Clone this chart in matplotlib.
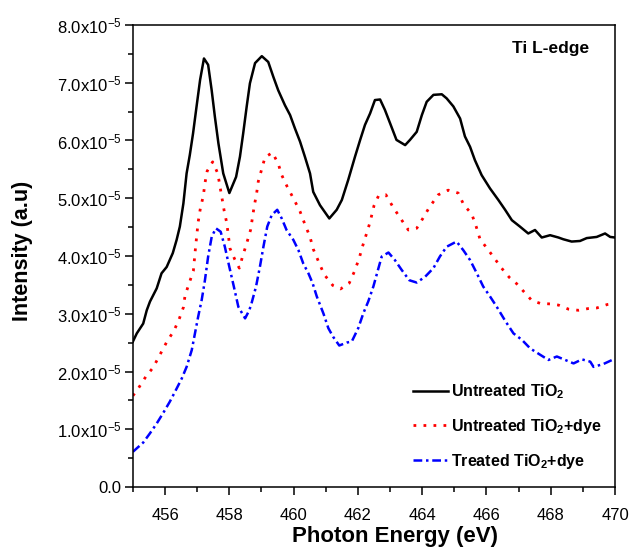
import numpy as np
import matplotlib
matplotlib.use("Agg")
import matplotlib.pyplot as plt
from matplotlib.ticker import MultipleLocator, FuncFormatter

plt.rcParams['font.family'] = ['Liberation Sans', 'DejaVu Sans']
plt.rcParams['mathtext.fontset'] = 'custom'
plt.rcParams['mathtext.rm'] = 'Liberation Sans'
plt.rcParams['mathtext.it'] = 'Liberation Sans:italic'
plt.rcParams['mathtext.bf'] = 'Liberation Sans:bold'

# -----------------------------
# data (intensity in units of 1e-5)
# -----------------------------
energy_untreated = [455.00, 455.12, 455.32, 455.43, 455.53, 455.74, 455.89, 456.05, 456.24, 456.36,
                    456.46, 456.57, 456.67, 456.77, 456.87, 456.98, 457.09, 457.21, 457.34, 457.45,
                    457.55, 457.66, 457.81, 458.00, 458.21, 458.33, 458.43, 458.54, 458.64, 458.80,
                    459.01, 459.21, 459.37, 459.52, 459.73, 459.89, 460.04, 460.20, 460.35, 460.51,
                    460.61, 460.82, 461.11, 461.34, 461.50, 461.70, 461.91, 462.07, 462.22, 462.38,
                    462.53, 462.69, 462.84, 463.00, 463.20, 463.47, 463.62, 463.83, 463.99, 464.14,
                    464.35, 464.61, 464.76, 464.97, 465.18, 465.33, 465.49, 465.64, 465.85, 466.11,
                    466.37, 466.58, 466.79, 467.04, 467.30, 467.51, 467.72, 467.98, 468.24, 468.39,
                    468.65, 468.91, 469.12, 469.43, 469.69, 469.85, 470.00]
int_untreated = [2.52, 2.66, 2.83, 3.06, 3.21, 3.44, 3.70, 3.81, 4.05, 4.28,
                 4.51, 4.91, 5.43, 5.75, 6.12, 6.59, 7.05, 7.42, 7.31, 6.87,
                 6.41, 5.95, 5.43, 5.09, 5.37, 5.72, 6.12, 6.59, 6.99, 7.34,
                 7.46, 7.36, 7.10, 6.87, 6.61, 6.44, 6.21, 5.98, 5.72, 5.43,
                 5.11, 4.88, 4.65, 4.80, 4.97, 5.32, 5.72, 6.01, 6.27, 6.47,
                 6.70, 6.71, 6.53, 6.30, 6.01, 5.92, 6.01, 6.15, 6.44, 6.67,
                 6.79, 6.80, 6.73, 6.59, 6.38, 6.07, 5.89, 5.66, 5.40, 5.17,
                 4.97, 4.80, 4.62, 4.51, 4.39, 4.45, 4.32, 4.36, 4.32, 4.29,
                 4.25, 4.26, 4.31, 4.33, 4.39, 4.33, 4.32]

energy_dye = [455.00, 455.17, 455.40, 455.63, 455.84, 456.05, 456.28, 456.44, 456.57, 456.62,
              456.75, 456.88, 456.95, 457.03, 457.10, 457.19, 457.24, 457.31, 457.48, 457.64,
              457.71, 457.84, 457.92, 458.02, 458.17, 458.31, 458.41, 458.54, 458.66, 458.77,
              458.85, 458.90, 459.11, 459.34, 459.52, 459.63, 459.80, 460.01, 460.20, 460.35,
              460.51, 460.61, 460.77, 460.95, 461.22, 461.46, 461.73, 461.89, 462.04, 462.14,
              462.27, 462.38, 462.50, 462.64, 462.87, 463.10, 463.34, 463.57, 463.83, 464.02,
              464.22, 464.50, 464.81, 465.12, 465.30, 465.54, 465.68, 465.80, 465.98, 466.21,
              466.47, 466.71, 466.94, 467.41, 467.67, 467.98, 468.24, 468.55, 468.86, 469.17,
              469.43, 469.76, 470.00]
int_dye = [1.58, 1.71, 1.91, 2.07, 2.29, 2.51, 2.71, 2.91, 3.11, 3.31,
           3.53, 3.74, 4.16, 4.59, 4.83, 5.04, 5.26, 5.47, 5.63, 5.43,
           5.20, 4.78, 4.57, 4.13, 3.94, 3.79, 3.99, 4.22, 4.45, 4.85,
           5.09, 5.29, 5.71, 5.79, 5.60, 5.40, 5.20, 4.98, 4.77, 4.55,
           4.33, 4.12, 3.91, 3.68, 3.49, 3.43, 3.53, 3.73, 3.96, 4.16,
           4.39, 4.59, 4.87, 5.04, 5.06, 4.84, 4.64, 4.45, 4.48, 4.65,
           4.84, 5.06, 5.14, 5.09, 4.88, 4.73, 4.51, 4.29, 4.16, 3.99,
           3.79, 3.63, 3.52, 3.23, 3.18, 3.17, 3.15, 3.08, 3.06, 3.09,
           3.10, 3.16, 3.18]

energy_treated = [455.00, 455.32, 455.53, 455.74, 455.94, 456.15, 456.31, 456.52, 456.67, 456.83,
                  456.93, 457.03, 457.14, 457.24, 457.34, 457.45, 457.58, 457.73, 457.86, 458.00,
                  458.14, 458.28, 458.49, 458.62, 458.69, 458.83, 458.95, 459.06, 459.18, 459.32,
                  459.49, 459.63, 459.78, 459.99, 460.15, 460.30, 460.46, 460.59, 460.72, 460.93,
                  461.08, 461.23, 461.42, 461.65, 461.81, 462.01, 462.17, 462.32, 462.48, 462.58,
                  462.74, 462.95, 463.15, 463.36, 463.60, 463.83, 464.09, 464.35, 464.55, 464.76,
                  465.07, 465.28, 465.49, 465.70, 465.90, 466.11, 466.32, 466.58, 466.84, 467.10,
                  467.36, 467.67, 467.93, 468.19, 468.45, 468.71, 468.97, 469.23, 469.33, 469.64,
                  469.95, 470.00]
int_treated = [0.61, 0.77, 0.93, 1.10, 1.28, 1.48, 1.65, 1.88, 2.08, 2.37,
               2.66, 2.95, 3.24, 3.58, 3.99, 4.33, 4.48, 4.42, 4.16, 3.81,
               3.47, 3.12, 2.92, 3.06, 3.18, 3.47, 3.81, 4.16, 4.51, 4.71,
               4.80, 4.65, 4.45, 4.28, 4.10, 3.87, 3.70, 3.53, 3.30, 3.00,
               2.75, 2.60, 2.45, 2.50, 2.52, 2.75, 3.01, 3.21, 3.47, 3.67,
               3.99, 4.06, 3.93, 3.76, 3.58, 3.54, 3.64, 3.79, 3.99, 4.16,
               4.25, 4.10, 3.93, 3.70, 3.47, 3.30, 3.12, 2.88, 2.66, 2.55,
               2.40, 2.29, 2.20, 2.26, 2.20, 2.14, 2.21, 2.17, 2.08, 2.13,
               2.21, 2.20]

labels = [r'Untreated TiO$_\mathbf{2}$',
          r'Untreated TiO$_\mathbf{2}$+dye',
          r'Treated TiO$_\mathbf{2}$+dye']

# -----------------------------
# plot
# -----------------------------
fig = plt.figure(figsize=(6.33, 5.55), dpi=100)
ax = fig.add_axes([0.210, 0.1225, 0.7616, 0.8325])

ax.plot(energy_untreated, np.array(int_untreated) * 1e-5, color='black', lw=1.8, label=labels[0])
ax.plot(energy_dye, np.array(int_dye) * 1e-5, color='red', lw=2.0,
        linestyle=(0, (1, 2.6)), label=labels[1])
ax.plot(energy_treated, np.array(int_treated) * 1e-5, color='blue', lw=1.8,
        linestyle=(0, (3.5, 1.5, 1, 1.5)), label=labels[2])

ax.set_xlim(455, 470)
ax.set_ylim(0, 8e-5)
ax.xaxis.set_major_locator(MultipleLocator(2))
ax.xaxis.set_minor_locator(MultipleLocator(1))
ax.yaxis.set_major_locator(MultipleLocator(1e-5))
ax.yaxis.set_minor_locator(MultipleLocator(0.5e-5))

def ylab(v, pos):
    n = v / 1e-5
    if abs(n) < 1e-9:
        return '0.0'
    return '%.1fx10$^{-5}$' % n

ax.yaxis.set_major_formatter(FuncFormatter(ylab))
ax.tick_params(which='both', direction='out', top=False, right=False, width=1.1)
ax.tick_params(which='major', length=6, labelsize=12)
ax.tick_params(which='minor', length=3.5)
ax.tick_params(axis='x', which='major', pad=9)
ax.tick_params(axis='y', which='major', pad=2)
for s in ax.spines.values():
    s.set_linewidth(1.1)

ax.set_xlabel('Photon Energy (eV)', fontsize=16, fontweight='bold', labelpad=4)
ax.xaxis.set_label_coords(0.543, -0.085)
ax.set_ylabel('Intensity (a.u)', fontsize=15.5, fontweight='bold')
ax.yaxis.set_label_coords(-0.208, 0.51)

ax.text(0.946, 0.95, 'Ti L-edge', transform=ax.transAxes, ha='right', va='center',
        fontsize=12.5, fontweight='bold')

leg = ax.legend(loc='lower left', bbox_to_anchor=(0.58, 0.035), frameon=False,
                prop={'size': 11.5, 'weight': 'bold'}, handlelength=2.2, handletextpad=0.2,
                labelspacing=1.0, borderpad=0, borderaxespad=0)

fig.savefig('out.png', dpi=100)
